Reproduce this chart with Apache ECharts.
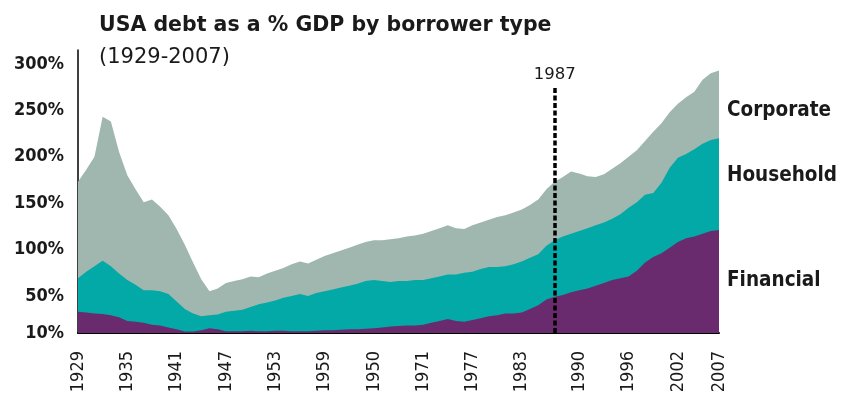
<!DOCTYPE html>
<html>
<head>
<meta charset="utf-8">
<script src="https://cdn.jsdelivr.net/npm/echarts@6/dist/echarts.min.js"></script>
<style>
html,body{margin:0;padding:0;background:#fff;}
#chart{width:842px;height:403px;}
</style>
</head>
<body>
<div id="chart"></div>
<script>
// ---- data (cumulative band tops as read on the axis) ----
var years = [];
for (var y = 1929; y <= 2007; y++) years.push(y);

// top of Financial band
var financialTop = [33,32,31,30.5,29,27,23,22,21,19,18,16,14,11.5,11.5,13,15,14,12,12,
  12,12.5,12,12,12.5,12.5,12,12,12,12.5,13,13,13.5,14,14,14.5,15,16,17,17.5,
  18,18,19,21,23,25,23,22,24,26,28,29,31,31,32,36,40,46,49,51,
  54,56,58,61,64,67,69,71,77,86,92,96,102,108,112,114,117,120,121];
// top of Household band (Financial + Household)
var householdTop = [69,76,82,88,82,74,67,62,56,56,55,52,44,36,31,28,29,30,33,34,
  35,38,41,43,45,48,50,52,50,53,55,57,59,61,63,66,67,66,65,66,
  66,67,67,69,71,73,73,75,76,79,81,81,82,84,87,91,95,104,110,114,
  117,120,123,126,129,133,138,145,151,159,161,172,188,199,203,208,214,218,220];
// top of Corporate band (total)
var totalTop = [173,186,200,243,238,205,180,165,151,154,146,137,122,105,86,68,55,58,64,66,
  68,71,70,74,77,80,84,87,85,89,93,96,99,102,105,108,110,110,111,112,
  114,115,117,120,123,126,123,122,126,129,132,135,137,140,143,148,154,165,173,178,
  184,182,179,178,181,187,193,200,207,217,227,236,248,257,264,270,283,290,293];

var tickYears  = [1929,1935,1941,1947,1953,1959,1965,1971,1977,1983,1990,1996,2002,2007];
var tickLabels = ['1929','1935','1941','1947','1953','1959','1950','1971','1977','1983','1990','1996','2002','2007'];
var yTicks = [10,50,100,150,200,250,300];
var seriesNames = ['Financial','Household','Corporate'];
var markYear = 1987;

function pairs(arr) {
  var out = [];
  for (var i = 0; i < years.length; i++) out.push([years[i], arr[i]]);
  return out;
}

var FONT = "'DejaVu Sans Condensed', 'DejaVu Sans', sans-serif";
var FONT_W = "'DejaVu Sans', sans-serif";
var colors = ['#6a2b6e', '#03a9a6', '#9fb7af'];

var chart = echarts.init(document.getElementById('chart'), null, {renderer: 'canvas'});

function areaSeries(name, data, color, z, extra) {
  var s = {
    name: name,
    type: 'line',
    data: data,
    showSymbol: false,
    symbol: 'none',
    lineStyle: {width: 0, color: color},
    areaStyle: {color: color, opacity: 1},
    itemStyle: {color: color},
    emphasis: {disabled: true},
    silent: true,
    z: z
  };
  if (extra) for (var k in extra) s[k] = extra[k];
  return s;
}

chart.setOption({
  animation: false,
  backgroundColor: '#fff',
  title: [{
    text: 'USA debt as a % GDP by borrower type',
    left: 94, top: 10,
    textStyle: {fontFamily: FONT_W, fontSize: 20.5, fontWeight: 'bold', color: '#1a1a1a'}
  }, {
    text: '(1929-2007)',
    left: 94, top: 42,
    textStyle: {fontFamily: FONT_W, fontSize: 21, fontWeight: 'normal', color: '#1a1a1a'}
  }],
  grid: {left: 78, right: 123, top: 50, bottom: 70, containLabel: false},
  xAxis: {
    type: 'value',
    min: 1929, max: 2007,
    axisLine: {show: true, onZero: false, lineStyle: {color: '#000', width: 2}},
    axisTick: {show: false},
    splitLine: {show: false},
    axisLabel: {
      customValues: tickYears,
      rotate: 90,
      margin: 18,
      fontFamily: FONT, fontSize: 18, color: '#1a1a1a',
      formatter: function (v) {
        var idx = tickYears.indexOf(v);
        return idx >= 0 ? tickLabels[idx] : '';
      }
    }
  },
  yAxis: {
    type: 'value',
    min: 10, max: 315,
    axisLine: {show: true, onZero: false, lineStyle: {color: '#000', width: 1.5}},
    axisTick: {show: false},
    splitLine: {show: false},
    axisLabel: {
      customValues: yTicks,
      margin: 14,
      fontFamily: FONT, fontSize: 18, fontWeight: 'bold', color: '#1a1a1a',
      formatter: '{value}%'
    }
  },
  series: [
    areaSeries(seriesNames[2], pairs(totalTop), colors[2], 2),
    areaSeries(seriesNames[1], pairs(householdTop), colors[1], 3),
    areaSeries(seriesNames[0], pairs(financialTop), colors[0], 4, {
      markLine: {
        silent: true,
        symbol: ['none', 'none'],
        animation: false,
        z: 10,
        lineStyle: {color: '#000', width: 3.5, type: [5, 2.5]},
        label: {
          show: true, position: 'start', formatter: String(markYear),
          fontFamily: FONT_W, fontSize: 16.5, fontWeight: 'normal', color: '#1a1a1a', distance: 5
        },
        data: [[{coord: [markYear, 274]}, {coord: [markYear, 10]}]]
      }
    })
  ],
  graphic: [
    {type: 'text', z: 20, style: {x: 727, y: 111, text: seriesNames[2], verticalAlign: 'middle', font: 'bold 20.5px ' + FONT, fill: '#1a1a1a'}},
    {type: 'text', z: 20, style: {x: 727, y: 176, text: seriesNames[1], verticalAlign: 'middle', font: 'bold 20.5px ' + FONT, fill: '#1a1a1a'}},
    {type: 'text', z: 20, style: {x: 727, y: 281, text: seriesNames[0], verticalAlign: 'middle', font: 'bold 20.5px ' + FONT, fill: '#1a1a1a'}}
  ]
});
</script>
</body>
</html>
